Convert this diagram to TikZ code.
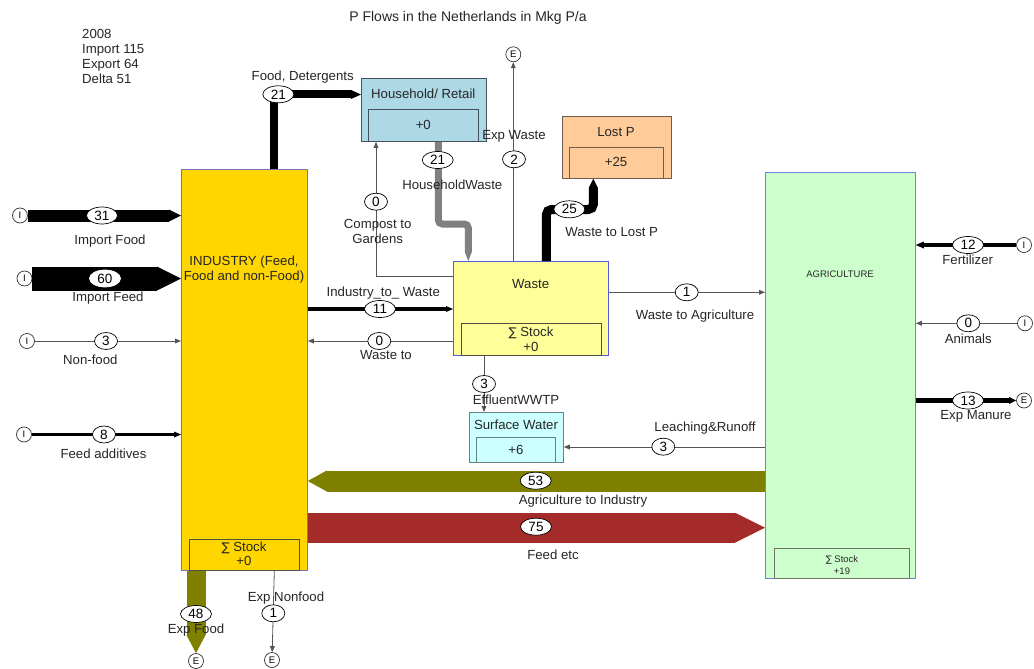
\documentclass[tikz,border=0pt]{standalone}
\usepackage{fontspec}
\setmainfont{Liberation Sans}
\newfontfamily\symfont{DejaVu Sans}
\usetikzlibrary{arrows.meta,shapes.geometric}

\definecolor{indfill}{RGB}{255,214,0}
\definecolor{indline}{RGB}{120,110,200}
\definecolor{hhfill}{RGB}{173,216,230}
\definecolor{hhline}{RGB}{70,80,90}
\definecolor{lostfill}{RGB}{255,204,153}
\definecolor{lostline}{RGB}{110,95,80}
\definecolor{wastefill}{RGB}{255,255,153}
\definecolor{wasteline}{RGB}{90,90,220}
\definecolor{swfill}{RGB}{204,255,255}
\definecolor{swline}{RGB}{100,130,130}
\definecolor{agfill}{RGB}{204,255,204}
\definecolor{agline}{RGB}{110,130,230}
\definecolor{bandolive}{RGB}{128,128,0}
\definecolor{feedred}{RGB}{165,42,42}
\definecolor{hwgray}{RGB}{128,128,128}
\definecolor{stockline}{RGB}{80,80,60}
\definecolor{thinline}{RGB}{85,85,85}

\begin{document}
\begin{tikzpicture}[x=1pt,y=-1pt,
  txt/.style={font=\fontsize{13.2}{15}\selectfont, inner sep=0pt, align=center, text=black!85},
  small/.style={font=\fontsize{9.5}{11}\selectfont, inner sep=0pt, align=center, text=black!85},
  box/.style={draw, line width=0.8pt, inner sep=0pt, anchor=north west},
  stockbox/.style={draw=stockline, line width=0.9pt, inner sep=0pt, anchor=north west},
  val/.style={ellipse, draw=black, fill=white, line width=0.7pt, inner sep=0pt,
              minimum height=17pt, minimum width=31pt, font=\fontsize{13.5}{15}\selectfont},
  valS/.style={val, minimum width=23pt},
  term/.style={circle, draw=black!80, fill=white, line width=0.7pt, inner sep=0pt,
               minimum size=15pt, font=\fontsize{9.5}{10}\selectfont},
  thinflow/.style={draw=thinline, line width=0.8pt,
                   -{Triangle[length=6pt,width=5pt,line width=0pt]}},
]
\useasboundingbox (0,0) rectangle (1034,669);

% ---- headings
\node[txt, font=\fontsize{14}{16}\selectfont] (title) at (468,18.3) {P Flows in the Netherlands in Mkg P/a};
\node[txt, align=left, anchor=west] (totals) at (82,56)
  {2008\\Import 115\\Export 64\\Delta 51};

% ---- processes
\node[box, draw=indline, fill=indfill, minimum width=126pt, minimum height=401pt] (ind) at (181,169) {};
\node[stockbox, minimum width=110pt, minimum height=31pt] (indst) at (189,539) {};
\node[txt] (indlab) at (244,269.5) {INDUSTRY (Feed,\\Food and non-Food)};
\node[txt, font=\fontsize{13.2}{14.5}\selectfont] (indstlab) at (244,554) {{\symfont\fontsize{12}{14.5}\selectfont ∑} Stock\\+0};

\node[box, draw=hhline, fill=hhfill, minimum width=125pt, minimum height=63pt] (hh) at (361,78) {};
\node[stockbox, draw=hhline, minimum width=110pt, minimum height=32pt] (hhst) at (368,109) {};
\node[txt] (hhlab) at (423.3,94) {Household/ Retail};
\node[txt] (hhstlab) at (423.3,125) {+0};

\node[box, draw=lostline, fill=lostfill, minimum width=109pt, minimum height=62pt] (lost) at (562,116) {};
\node[stockbox, draw=lostline, minimum width=94pt, minimum height=31pt] (lostst) at (569,147) {};
\node[txt] (lostlab) at (616,131.7) {Lost P};
\node[txt] (loststlab) at (616,162.3) {+25};

\node[box, draw=wasteline, fill=wastefill, minimum width=155pt, minimum height=94pt] (waste) at (453,261) {};
\node[stockbox, minimum width=140pt, minimum height=32pt] (wastest) at (461,323) {};
\node[txt] (wastelab) at (530.7,284.3) {Waste};
\node[txt, font=\fontsize{13.2}{15}\selectfont] (wastestlab) at (531,339.5) {{\symfont\fontsize{12}{15}\selectfont ∑} Stock\\+0};

\node[box, draw=swline, fill=swfill, minimum width=94pt, minimum height=50pt] (sw) at (469,412) {};
\node[stockbox, draw=swline, minimum width=79pt, minimum height=25pt] (swst) at (476,437) {};
\node[txt] (swlab) at (516,425) {Surface Water};
\node[txt] (swstlab) at (516,449.5) {+6};

\node[box, draw=agline, fill=agfill, minimum width=150pt, minimum height=406pt] (agri) at (765,172) {};
\node[stockbox, draw=stockline!80, minimum width=135pt, minimum height=30pt] (agrist) at (774,548) {};
\node[small] (agrilab) at (840,274) {AGRICULTURE};
\node[small, font=\fontsize{9.5}{11.3}\selectfont] (agristlab) at (842,565) {{\symfont\fontsize{9}{11.3}\selectfont ∑} Stock\\+19};

% ---- sources (I) and sinks (E)
\node[term] (iFood) at (20,215.5) {I};
\node[term] (iFeed) at (24.5,278.5) {I};
\node[term] (iNF) at (27,341) {I};
\node[term] (iAdd) at (24,434.5) {I};
\node[term] (iFert) at (1024,245) {I};
\node[term] (iAnim) at (1025,323.3) {I};
\node[term] (eMan) at (1024,400.5) {E};
\node[term] (eWaste) at (513.3,54.3) {E};
\node[term] (eFood) at (196,661) {E};
\node[term] (eNF) at (272,660) {E};

% ---- wide flows
\draw[draw=feedred, line width=30pt, -{Triangle[length=30pt,width=30pt,line width=0pt]}]
  (ind.east |- 0,527.7) -- (agri.west |- 0,527.7);
\draw[draw=bandolive, line width=21pt, -{Triangle[length=19pt,width=21pt,line width=0pt]}]
  (agri.west |- 0,481) -- (ind.east |- 0,481);
\draw[draw=bandolive, line width=19pt, -{Triangle[length=18pt,width=19pt,line width=0pt]}]
  (ind.south -| eFood) -- (eFood);
\draw[line width=12pt, -{Triangle[length=12pt,width=12pt,line width=0pt]}]
  (iFood) -- (iFood -| ind.west);
\draw[line width=24pt, -{Triangle[length=24pt,width=24pt,line width=0pt]}]
  (iFeed) -- (iFeed -| ind.west);

% ---- thick flows
\draw[line width=8pt, -{Triangle[length=10pt,width=9pt,line width=0pt]}]
  (ind.north -| 274.3,0) |- (hh.west |- 0,94.5);
\draw[draw=hwgray, line width=7pt, rounded corners=4pt, -{Triangle[length=9pt,width=7pt,line width=0pt]}]
  (hh.south -| 438.3,0) -- (438.3,224) -- (468.3,224) -- (waste.north -| 468.3,0);
\draw[line width=9pt, rounded corners=5pt, -{Triangle[length=9pt,width=9pt,line width=0pt]}]
  (waste.north -| 546.4,0) -- (546.4,209.5) -- (593.3,209.5) -- (lost.south -| 593.3,0);
\draw[line width=3.5pt, -{Triangle[length=7pt,width=6pt,line width=0pt]}]
  (ind.east |- 0,309) -- (waste.west |- 0,309);
\draw[line width=3pt, -{Triangle[length=7pt,width=6pt,line width=0pt]}]
  (iAdd) -- (iAdd -| ind.west);
\draw[line width=4pt, -{Triangle[length=8pt,width=7pt,line width=0pt]}]
  (iFert) -- (iFert -| agri.east);
\draw[line width=5pt, -{Triangle[length=7pt,width=7pt,line width=0pt]}]
  (agri.east |- eMan) -- (eMan);

% ---- thin flows
\draw[thinflow] (iNF) -- (iNF -| ind.west);
\draw[thinflow] (iAnim) -- (iAnim -| agri.east);
\draw[thinflow] (waste.west |- 0,341) -- (ind.east |- 0,341);
\draw[thinflow] (waste.west |- 0,276.7) -| (hh.south -| 376,0);
\draw[thinflow] (waste.north -| eWaste) -- (eWaste);
\draw[thinflow] (waste.east |- 0,292.3) -- (agri.west |- 0,292.3);
\draw[thinflow] (waste.south -| 484,0) -- (sw.north -| 484,0);
\draw[thinflow] (agri.west |- 0,447) -- (sw.east |- 0,447);
\draw[thinflow] (ind.south -| 274.3,0) -- (eNF);

% ---- flow values
\node[val] (vFD) at (278.3,94.3) {21};
\node[val] (vIF) at (102,215.5) {31};
\node[val, draw=white] (vIFe) at (105,278.5) {60};
\node[valS] (vNF) at (106,341) {3};
\node[valS] (vAdd) at (104,434.5) {8};
\node[val] (vIW) at (380,309) {11};
\node[valS] (vWI) at (379.3,341) {0};
\node[valS] (vCG) at (376,201.7) {0};
\node[val] (vHW) at (437.7,160) {21};
\node[valS] (vEW) at (514,159.3) {2};
\node[val] (vWL) at (569.3,209.3) {25};
\node[valS] (vWA) at (686.7,292.3) {1};
\node[valS] (vEff) at (484,384) {3};
\node[valS] (vLR) at (663.3,446.7) {3};
\node[val] (vAI) at (535.7,480.7) {53};
\node[val] (vFE) at (536,526.7) {75};
\node[val] (vFert) at (968,245) {12};
\node[valS] (vAnim) at (968.3,323.3) {0};
\node[val] (vMan) at (968,400.5) {13};
\node[val] (vEF) at (196,614) {48};
\node[valS] (vENF) at (273.3,613.3) {1};

% ---- flow names
\node[txt] (lFD) at (302.7,77.3) {Food, Detergents};
\node[txt] (lIF) at (110,241) {Import Food};
\node[txt] (lIFe) at (108,298.3) {Import Feed};
\node[txt] (lNF) at (90.3,359.3) {Non-food};
\node[txt] (lAdd) at (103.5,453.3) {Feed additives};
\node[txt] (lIW) at (383.3,293.3) {Industry\_to\_ Waste};
\node[txt] (lWI) at (386,355) {Waste to};
\node[txt] (lCG) at (377.7,231.7) {Compost to\\Gardens};
\node[txt] (lHW) at (452.3,185) {HouseholdWaste};
\node[txt] (lEW) at (514,136.7) {Exp Waste};
\node[txt] (lWL) at (611.7,232.3) {Waste to Lost P};
\node[txt] (lWA) at (695,315.7) {Waste to Agriculture};
\node[txt] (lEff) at (516,399.3) {EffluentWWTP};
\node[txt] (lLR) at (705,428.3) {Leaching\&Runoff};
\node[txt] (lAI) at (583,501) {Agriculture to Industry};
\node[txt] (lFE) at (553,555) {Feed etc};
\node[txt] (lFert) at (967.7,260) {Fertilizer};
\node[txt] (lAnim) at (968.3,338.3) {Animals};
\node[txt] (lMan) at (976,416.7) {Exp Manure};
\node[txt] (lEF) at (196,630) {Exp Food};
\node[txt] (lENF) at (286,597.7) {Exp Nonfood};
\end{tikzpicture}
\end{document}
